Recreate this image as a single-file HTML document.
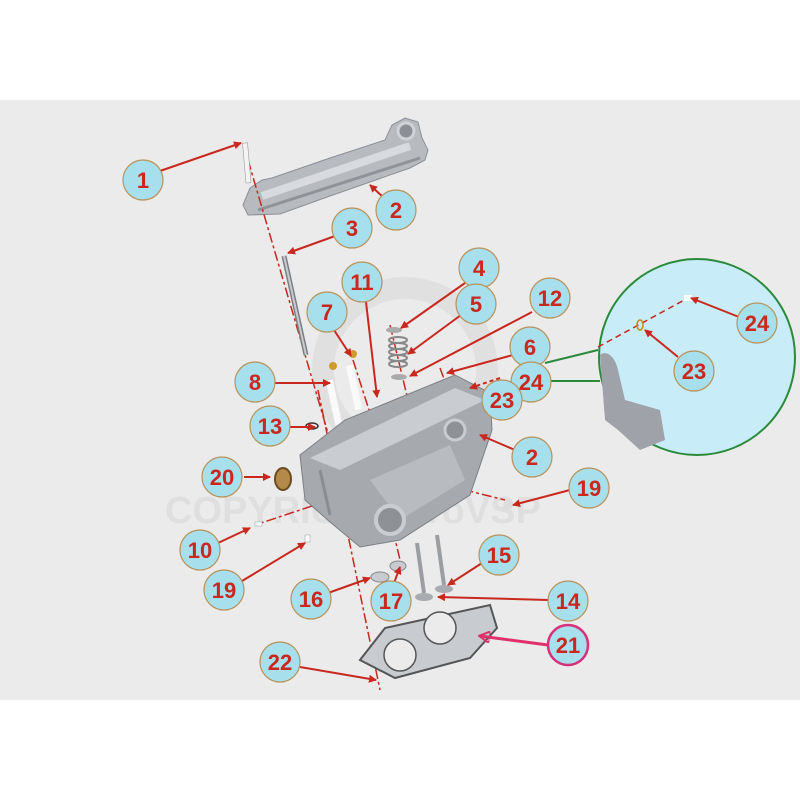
<!DOCTYPE html>
<html><head><meta charset="utf-8"><style>
html,body{margin:0;padding:0;background:#fff;}
svg{display:block;}
text{font-family:"Liberation Sans",sans-serif;font-weight:bold;fill:#c8281e;}
</style></head><body>
<svg width="800" height="800" viewBox="0 0 800 800" xmlns="http://www.w3.org/2000/svg">
<defs>
<marker id="ah" markerWidth="8" markerHeight="8" refX="7" refY="4" orient="auto" markerUnits="userSpaceOnUse"><path d="M0,0 L8,4 L0,8 z" fill="#c8281e"/></marker>
<marker id="ahp" markerWidth="12" markerHeight="12" refX="10" refY="6" orient="auto" markerUnits="userSpaceOnUse"><path d="M0,0 L11,6 L0,12 z" fill="none" stroke="#e0306a" stroke-width="2"/></marker>
</defs>
<rect x="0" y="100" width="800" height="600" fill="#ebebeb"/>
<!-- watermark -->
<circle cx="405" cy="370" r="82" fill="none" stroke="#e0e0e0" stroke-width="22"/>
<text x="165" y="523" font-size="38" style="fill:#dfdfdf;font-weight:bold" >COPYRIGHT ProVSP</text>

<!-- inset -->
<circle cx="697" cy="357" r="98" fill="#c8ecf8" stroke="#2a8a3a" stroke-width="2"/>
<path d="M600,355 C605,350 615,355 618,370 L625,400 L660,410 L665,440 L640,450 L618,430 L605,420 Z" fill="#9fa2a8"/>
<line x1="545" y1="363" x2="598" y2="350" stroke="#2a8a3a" stroke-width="2"/>
<line x1="548" y1="381" x2="600" y2="381" stroke="#2a8a3a" stroke-width="2"/>
<line x1="598" y1="347" x2="688" y2="298" stroke="#c8281e" stroke-width="1.5" stroke-dasharray="6,4"/>
<ellipse cx="640" cy="325" rx="3" ry="5" fill="none" stroke="#c88a10" stroke-width="1.5"/>
<rect x="684" y="295" width="8" height="6" fill="#fff"/>

<!-- valve cover -->
<path d="M243,205 L250,188 L262,180 L272,178 L330,158 L385,140 L392,125 L405,118 L418,122 L422,138 L428,150 L425,160 L410,168 L330,196 L280,214 L248,215 Z" fill="#b7bbc0" stroke="#8c9096"/>
<path d="M262,196 L410,146" stroke="#d8dade" stroke-width="8"/>
<path d="M258,210 L420,158" stroke="#8f9398" stroke-width="3"/>
<circle cx="406" cy="131" r="8" fill="#8c9096" stroke="#d0d2d6" stroke-width="3"/>

<!-- dashed axis lines -->
<g stroke="#c8281e" stroke-width="1.5" stroke-dasharray="10,3,3,3" fill="none">
<line x1="248" y1="160" x2="330" y2="440"/>
<line x1="318" y1="390" x2="380" y2="690"/>
<line x1="333" y1="400" x2="350" y2="460"/>
<line x1="353" y1="360" x2="385" y2="460"/>
<line x1="390" y1="325" x2="420" y2="450"/>
<line x1="440" y1="368" x2="450" y2="395"/>
<line x1="330" y1="500" x2="255" y2="525"/>
<line x1="445" y1="485" x2="505" y2="500"/>
<line x1="380" y1="475" x2="400" y2="560"/>
</g>
<rect x="244" y="143" width="5" height="40" fill="#f4f4f4" stroke="#999" stroke-width="0.6" transform="rotate(-5 246 160)"/>
<line x1="284" y1="256" x2="306" y2="355" stroke="#7a7d82" stroke-width="5"/>
<line x1="284" y1="256" x2="306" y2="355" stroke="#c8cbd0" stroke-width="2"/>
<rect x="330" y="380" width="7" height="45" fill="#fafafa" transform="rotate(-12 333 400)"/>
<rect x="350" y="365" width="7" height="45" fill="#fafafa" transform="rotate(-12 353 385)"/>
<circle cx="333" cy="366" r="4" fill="#d09a30"/><circle cx="353" cy="354" r="4" fill="#d09a30"/>
<g stroke="#888" fill="none" stroke-width="2"><ellipse cx="398" cy="340" rx="9" ry="3"/><ellipse cx="398" cy="346" rx="9" ry="3"/><ellipse cx="398" cy="352" rx="9" ry="3"/><ellipse cx="398" cy="358" rx="9" ry="3"/><ellipse cx="398" cy="364" rx="9" ry="3"/></g>
<ellipse cx="394" cy="330" rx="8" ry="3" fill="#aaa"/><ellipse cx="399" cy="377" rx="8" ry="3" fill="#aaa"/>
<ellipse cx="312" cy="426" rx="6" ry="3" fill="none" stroke="#333" stroke-width="1.5"/>
<!-- cylinder head -->
<path d="M300,455 L345,420 L455,375 L490,393 L492,430 L470,495 L400,540 L360,547 L330,522 L305,500 Z" fill="#a6a9ae" stroke="#7c7f84"/>
<path d="M310,458 L455,388 L485,400 L340,470 Z" fill="#c9ccd0"/>
<path d="M370,480 L450,445 L465,480 L400,520 Z" fill="#b8bbbf"/>
<path d="M320,470 L330,515" stroke="#8a8d92" stroke-width="3"/>
<circle cx="390" cy="520" r="14" fill="#8e9196" stroke="#c9ccd0" stroke-width="4"/>
<circle cx="455" cy="430" r="10" fill="#8e9196" stroke="#c9ccd0" stroke-width="3"/>
<ellipse cx="283" cy="479" rx="8" ry="11" fill="#b48a4a" stroke="#6a4a20" stroke-width="2"/>
<rect x="255" y="522" width="7" height="4" fill="#fff" stroke="#999" stroke-width="0.5"/>
<rect x="305" y="535" width="5" height="7" fill="#fff" stroke="#999" stroke-width="0.5"/>
<circle cx="508" cy="505" r="5" fill="#ddd"/>
<ellipse cx="380" cy="577" rx="9" ry="5" fill="#c8cbd0" stroke="#888"/>
<ellipse cx="398" cy="566" rx="8" ry="5" fill="#c8cbd0" stroke="#888"/>
<line x1="417" y1="543" x2="424" y2="593" stroke="#9a9da2" stroke-width="4"/>
<line x1="437" y1="535" x2="444" y2="585" stroke="#9a9da2" stroke-width="4"/>
<ellipse cx="424" cy="597" rx="9" ry="4" fill="#a8abb0"/><ellipse cx="444" cy="589" rx="9" ry="4" fill="#a8abb0"/>
<path d="M360,660 L385,628 L490,605 L497,628 L470,658 L395,678 Z" fill="#c8cbd0" stroke="#555" stroke-width="2"/>
<circle cx="400" cy="655" r="16" fill="#ebebeb" stroke="#555" stroke-width="1.5"/>
<circle cx="440" cy="628" r="16" fill="#ebebeb" stroke="#555" stroke-width="1.5"/>

<g stroke="#c8281e" stroke-width="2" fill="none" marker-end="url(#ah)">
<line x1="160" y1="171" x2="241" y2="143"/>
<line x1="383" y1="197" x2="370" y2="185"/>
<line x1="335" y1="236" x2="288" y2="253"/>
<line x1="366" y1="302" x2="377" y2="397"/>
<line x1="465" y1="283" x2="401" y2="328"/>
<line x1="461" y1="315" x2="408" y2="354"/>
<line x1="532" y1="312" x2="410" y2="376"/>
<line x1="334" y1="330" x2="351" y2="356"/>
<line x1="513" y1="355" x2="447" y2="373"/>
<line x1="500" y1="378" x2="470" y2="388" stroke-dasharray="4,3"/>
<line x1="275" y1="383" x2="330" y2="383"/>
<line x1="290" y1="427" x2="315" y2="427"/>
<line x1="515" y1="450" x2="480" y2="435"/>
<line x1="244" y1="477" x2="270" y2="477"/>
<line x1="570" y1="490" x2="513" y2="505"/>
<line x1="218" y1="543" x2="250" y2="528"/>
<line x1="242" y1="581" x2="305" y2="543"/>
<line x1="328" y1="593" x2="370" y2="578"/>
<line x1="394" y1="583" x2="400" y2="567"/>
<line x1="482" y1="563" x2="448" y2="585"/>
<line x1="548" y1="600" x2="438" y2="597"/>
<line x1="300" y1="667" x2="376" y2="680"/>
<line x1="739" y1="317" x2="691" y2="298"/>
<line x1="678" y1="357" x2="645" y2="330"/>
</g>
<line x1="548" y1="645" x2="480" y2="636" stroke="#e0306a" stroke-width="3" marker-end="url(#ahp)"/>

<g font-size="22" text-anchor="middle">
<g fill="#a8dfec" stroke="#b8925a" stroke-width="1.2">
<circle cx="143" cy="180" r="20"/><circle cx="396" cy="210" r="20"/><circle cx="352" cy="228" r="20"/>
<circle cx="362" cy="282" r="20"/><circle cx="479" cy="268" r="20"/><circle cx="476" cy="304" r="20"/>
<circle cx="550" cy="298" r="20"/><circle cx="327" cy="312" r="20"/><circle cx="530" cy="347" r="20"/>
<circle cx="531" cy="382" r="20"/><circle cx="502" cy="400" r="20"/><circle cx="255" cy="382" r="20"/>
<circle cx="270" cy="426" r="20"/><circle cx="532" cy="457" r="20"/><circle cx="222" cy="477" r="20"/>
<circle cx="589" cy="488" r="20"/><circle cx="200" cy="550" r="20"/><circle cx="224" cy="590" r="20"/>
<circle cx="311" cy="599" r="20"/><circle cx="391" cy="601" r="20"/><circle cx="499" cy="555" r="20"/>
<circle cx="568" cy="601" r="20"/><circle cx="280" cy="662" r="20"/>
<circle cx="757" cy="323" r="20"/><circle cx="694" cy="371" r="20"/>
</g>
<circle cx="568" cy="645" r="20" fill="#a8dfec" stroke="#d8307a" stroke-width="2.5"/>
<text x="143" y="188">1</text><text x="396" y="218">2</text><text x="352" y="236">3</text>
<text x="362" y="290">11</text><text x="479" y="276">4</text><text x="476" y="312">5</text>
<text x="550" y="306">12</text><text x="327" y="320">7</text><text x="530" y="355">6</text>
<text x="531" y="390">24</text><text x="502" y="408">23</text><text x="255" y="390">8</text>
<text x="270" y="434">13</text><text x="532" y="465">2</text><text x="222" y="485">20</text>
<text x="589" y="496">19</text><text x="200" y="558">10</text><text x="224" y="598">19</text>
<text x="311" y="607">16</text><text x="391" y="609">17</text><text x="499" y="563">15</text>
<text x="568" y="609">14</text><text x="568" y="653">21</text><text x="280" y="670">22</text>
<text x="757" y="331">24</text><text x="694" y="379">23</text>
</g>
</svg>
</body></html>
